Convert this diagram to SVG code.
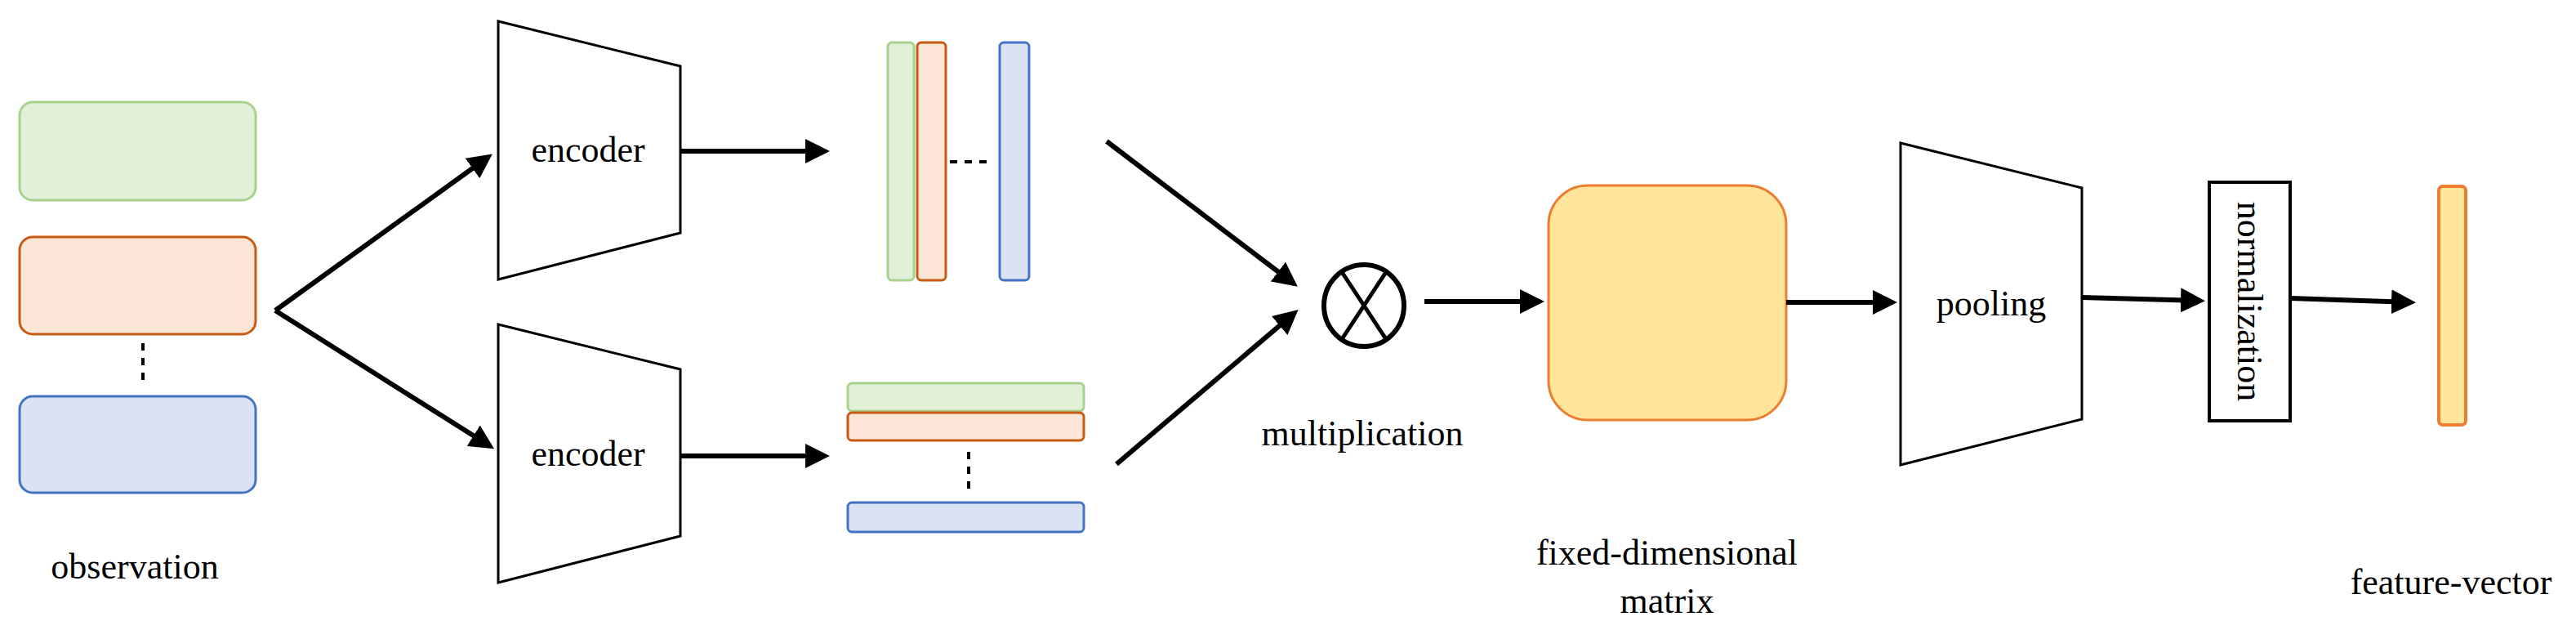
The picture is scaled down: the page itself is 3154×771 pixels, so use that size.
<svg xmlns="http://www.w3.org/2000/svg" width="3154" height="771" viewBox="0 0 3154 771">
<style>
text{font-family:"Liberation Serif","Times New Roman",serif;font-size:44px;fill:#000}
.g{fill:#e2f0d9;stroke:#a9d18e;stroke-width:3}
.o{fill:#fbe5d6;stroke:#c55a11;stroke-width:3}
.b{fill:#dae3f3;stroke:#4472c4;stroke-width:3}
.tr{fill:#fff;stroke:#000;stroke-width:3}
.c{stroke:#000;stroke-width:6;fill:none;marker-end:url(#ah)}
.dot{stroke:#000;stroke-width:4;stroke-dasharray:9,9;fill:none}
</style>
<defs><marker id="ah" markerWidth="5" markerHeight="5" refX="4" refY="2.5" orient="auto" markerUnits="strokeWidth"><path d="M0,0 L5,2.5 L0,5 Z" fill="#000"/></marker></defs>
<g id="observation">
<rect class="g" x="24" y="125" width="289" height="120" rx="16"/>
<rect class="o" x="24" y="290" width="289" height="119" rx="16"/>
<line class="dot" x1="175" y1="420" x2="175" y2="468"/>
<rect class="b" x="24" y="485" width="289" height="118" rx="16"/>
<text x="165" y="708" text-anchor="middle">observation</text>
</g>
<g id="encoder1"><polygon class="tr" points="610,26 833,81 833,285 610,342"/><text x="720" y="198" text-anchor="middle">encoder</text></g>
<g id="encoder2"><polygon class="tr" points="610,397 833,452 833,656 610,713"/><text x="720" y="570" text-anchor="middle">encoder</text></g>
<g id="vbars">
<rect class="g" x="1087" y="52" width="32" height="291" rx="5"/>
<rect class="o" x="1123" y="52" width="35" height="291" rx="5"/>
<line class="dot" x1="1163" y1="198" x2="1213" y2="198" stroke-dasharray="6,10"/>
<rect class="b" x="1224" y="52" width="36" height="291" rx="5"/>
</g>
<g id="hbars">
<rect class="g" x="1038" y="469" width="289" height="34" rx="5"/>
<rect class="o" x="1038" y="505" width="289" height="34" rx="5"/>
<line class="dot" x1="1186" y1="553" x2="1186" y2="600"/>
<rect class="b" x="1038" y="615" width="289" height="36" rx="5"/>
</g>
<g id="multiplication">
<ellipse cx="1670" cy="374" rx="49" ry="50" fill="#fff" stroke="#000" stroke-width="6"/>
<line x1="1643" y1="333" x2="1697" y2="415" stroke="#000" stroke-width="5"/>
<line x1="1697" y1="333" x2="1643" y2="415" stroke="#000" stroke-width="5"/>
<text x="1668" y="545" text-anchor="middle">multiplication</text>
</g>
<g id="matrix">
<rect x="1896" y="227" width="291" height="287" rx="48" fill="#fee599" stroke="#ed7d31" stroke-width="3"/>
<text x="2041" y="691" text-anchor="middle">fixed-dimensional</text>
<text x="2041" y="750" text-anchor="middle">matrix</text>
</g>
<g id="pooling"><polygon class="tr" points="2327,175 2549,230 2549,513 2327,569"/><text x="2438" y="386" text-anchor="middle">pooling</text></g>
<g id="normalization"><rect x="2705" y="223" width="99" height="292" fill="#fff" stroke="#000" stroke-width="4"/><text transform="translate(2740,369) rotate(90)" text-anchor="middle">normalization</text></g>
<g id="feature"><rect x="2986" y="228" width="33" height="292" rx="5" fill="#fee599" stroke="#ed7d31" stroke-width="4"/><text x="3001" y="727" text-anchor="middle">feature-vector</text></g>
<g id="connectors">
<polyline points="610,184 337,380 610,555" fill="none" stroke="none"/>
<line class="c" x1="337" y1="380" x2="598" y2="192"/>
<line class="c" x1="337" y1="380" x2="600" y2="546"/>
<line class="c" x1="833" y1="185" x2="1010" y2="185"/>
<line class="c" x1="833" y1="558" x2="1010" y2="558"/>
<line class="c" x1="1355" y1="173" x2="1584" y2="347"/>
<line class="c" x1="1367" y1="568" x2="1585" y2="383"/>
<line class="c" x1="1744" y1="369" x2="1885" y2="369"/>
<line class="c" x1="2187" y1="370" x2="2317" y2="370"/>
<line class="c" x1="2549" y1="364" x2="2694" y2="368"/>
<line class="c" x1="2804" y1="365" x2="2952" y2="370"/>
</g>
</svg>
